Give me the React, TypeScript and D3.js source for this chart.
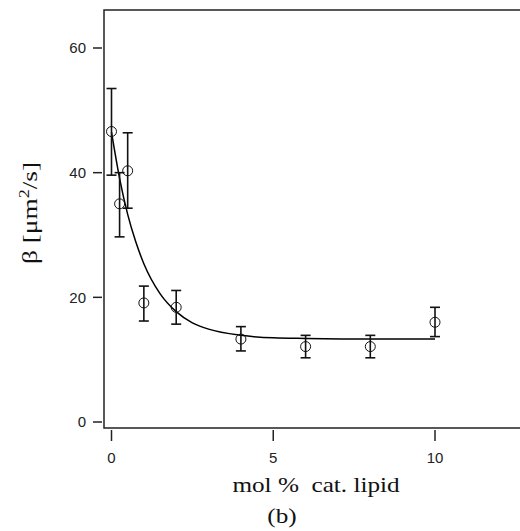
import React, { useRef, useEffect } from 'react';
import * as d3 from 'd3';

// measured points: x (mol %), beta, error bar low / high
const molPct = [0, 0.25, 0.5, 1, 2, 4, 6, 8, 10];
const beta = [46.6, 35.0, 40.3, 19.1, 18.4, 13.3, 12.1, 12.1, 16.0];
const errLow = [39.6, 29.7, 34.3, 16.2, 15.7, 11.4, 10.3, 10.3, 13.7];
const errHigh = [53.5, 40.0, 46.4, 21.8, 21.1, 15.3, 13.9, 13.9, 18.4];

// fitted curve
const fitX = [0, 0.25, 0.5, 0.75, 1, 1.5, 2, 2.5, 3, 4, 5, 6, 8, 10];
const fitY = [46.5, 39.1, 33.3, 28.9, 25.4, 20.6, 17.7, 15.9, 14.9, 13.9, 13.5, 13.4, 13.3, 13.3];

const xTicks = [0, 5, 10];
const yTicks = [0, 20, 40, 60];

const App = () => {
    const svgRef = useRef(null);

    useEffect(() => {
        const svg = d3.select(svgRef.current);
        svg.selectAll('*').remove();

        const x = d3.scaleLinear().domain([0, 10]).range([111.5, 435]);
        const y = d3.scaleLinear().domain([0, 60]).range([422, 48]);

        const left = 104, right = 520, top = 10, bottom = 428;

        // frame: left, top, bottom
        svg.append('path')
            .attr('d', `M${right},${top}H${left}V${bottom}H${right}`)
            .attr('fill', 'none')
            .attr('stroke', '#222')
            .attr('stroke-width', 1.5);

        const sans = '"Liberation Sans", Arial, sans-serif';

        // y ticks (detached from the axis)
        const yg = svg.append('g').attr('font-family', sans).attr('font-size', 15);
        yTicks.forEach(t => {
            yg.append('line')
                .attr('x1', 93).attr('x2', 102)
                .attr('y1', y(t)).attr('y2', y(t))
                .attr('stroke', '#222').attr('stroke-width', 1.5);
            yg.append('text')
                .attr('x', 86).attr('y', y(t)).attr('dy', '0.36em')
                .attr('text-anchor', 'end').attr('fill', '#222')
                .text(t);
        });

        // x ticks
        const xg = svg.append('g').attr('font-family', sans).attr('font-size', 15);
        xTicks.forEach(t => {
            xg.append('line')
                .attr('x1', x(t)).attr('x2', x(t))
                .attr('y1', 430).attr('y2', 441)
                .attr('stroke', '#222').attr('stroke-width', 1.5);
            xg.append('text')
                .attr('x', x(t)).attr('y', 463)
                .attr('text-anchor', 'middle').attr('fill', '#222')
                .text(t);
        });

        // fit curve
        const line = d3.line()
            .x((d, i) => x(fitX[i]))
            .y(d => y(d))
            .curve(d3.curveMonotoneX);
        svg.append('path')
            .datum(fitY)
            .attr('d', line)
            .attr('fill', 'none')
            .attr('stroke', '#000')
            .attr('stroke-width', 1.5);

        // error bars
        const eb = svg.append('g').attr('stroke', '#111').attr('stroke-width', 1.6);
        molPct.forEach((m, i) => {
            const cx = x(m);
            eb.append('line').attr('x1', cx).attr('x2', cx).attr('y1', y(errLow[i])).attr('y2', y(errHigh[i]));
            eb.append('line').attr('x1', cx - 5).attr('x2', cx + 5).attr('y1', y(errLow[i])).attr('y2', y(errLow[i]));
            eb.append('line').attr('x1', cx - 5).attr('x2', cx + 5).attr('y1', y(errHigh[i])).attr('y2', y(errHigh[i]));
        });

        // markers
        svg.append('g').selectAll('circle')
            .data(beta)
            .join('circle')
            .attr('cx', (d, i) => x(molPct[i]))
            .attr('cy', d => y(d))
            .attr('r', 5)
            .attr('fill', 'none')
            .attr('stroke', '#111')
            .attr('stroke-width', 1);

        // titles (the original lettering is a bit wider than the font)
        const serif = '"Liberation Serif", "Times New Roman", serif';
        const yl = svg.append('text')
            .attr('transform', 'translate(37,213) rotate(-90) scale(1.3,1)')
            .attr('text-anchor', 'middle')
            .attr('font-family', serif).attr('font-size', 21).attr('fill', '#111');
        yl.append('tspan').text('β [μm');
        yl.append('tspan').attr('dy', -8).attr('font-size', 14).text('2');
        yl.append('tspan').attr('dy', 8).text('/s]');

        svg.append('text')
            .attr('transform', 'translate(316,492) scale(1.2,1)')
            .attr('text-anchor', 'middle')
            .attr('font-family', serif).attr('font-size', 21).attr('fill', '#111')
            .attr('xml:space', 'preserve')
            .text('mol %  cat. lipid');

        svg.append('text')
            .attr('transform', 'translate(282,523) scale(1.2,1)')
            .attr('text-anchor', 'middle')
            .attr('font-family', serif).attr('font-size', 21).attr('fill', '#111')
            .text('(b)');
    }, []);

    return (
        <svg ref={svgRef} width={520} height={531}
            style={{ position: 'absolute', left: 0, top: 0, background: '#fff' }}></svg>
    );
};

export default App;
